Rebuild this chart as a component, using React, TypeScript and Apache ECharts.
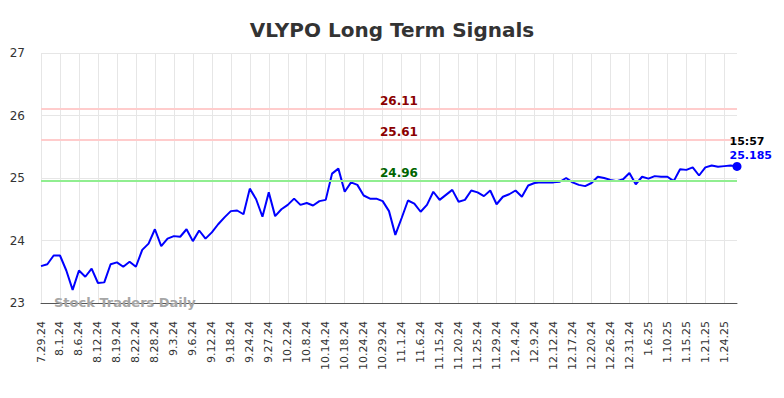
import React, { useEffect, useRef } from "react";
import * as echarts from "echarts";

const dates: string[] = [
  "7.29.24", "7.30.24", "7.31.24", "8.1.24", "8.2.24", "8.5.24", "8.6.24", "8.7.24", "8.9.24",
  "8.12.24", "8.14.24", "8.16.24", "8.19.24", "8.20.24", "8.21.24", "8.22.24", "8.23.24", "8.26.24",
  "8.28.24", "8.29.24", "8.30.24", "9.3.24", "9.4.24", "9.5.24", "9.6.24", "9.9.24", "9.10.24",
  "9.12.24", "9.13.24", "9.16.24", "9.18.24", "9.19.24", "9.20.24", "9.24.24", "9.25.24", "9.26.24",
  "9.27.24", "9.30.24", "10.1.24", "10.2.24", "10.3.24", "10.7.24", "10.8.24", "10.9.24", "10.11.24",
  "10.14.24", "10.15.24", "10.17.24", "10.18.24", "10.21.24", "10.22.24", "10.24.24", "10.25.24", "10.28.24",
  "10.29.24", "10.30.24", "10.31.24", "11.1.24", "11.4.24", "11.5.24", "11.6.24", "11.8.24", "11.12.24",
  "11.15.24", "11.18.24", "11.19.24", "11.20.24", "11.21.24", "11.22.24", "11.25.24", "11.26.24", "11.27.24",
  "11.29.24", "12.2.24", "12.3.24", "12.4.24", "12.5.24", "12.6.24", "12.9.24", "12.10.24", "12.11.24",
  "12.12.24", "12.13.24", "12.16.24", "12.17.24", "12.18.24", "12.19.24", "12.20.24", "12.23.24", "12.24.24",
  "12.26.24", "12.27.24", "12.30.24", "12.31.24", "1.2.25", "1.3.25", "1.6.25", "1.7.25", "1.8.25",
  "1.10.25", "1.13.25", "1.14.25", "1.15.25", "1.16.25", "1.17.25", "1.21.25", "1.22.25", "1.23.25",
  "1.24.25", "1.27.25", "1.28.25",
];

const prices: number[] = [
  23.59, 23.62, 23.76, 23.76, 23.52, 23.21, 23.52, 23.42, 23.55,
  23.32, 23.33, 23.62, 23.65, 23.58, 23.66, 23.58, 23.85, 23.95,
  24.18, 23.91, 24.03, 24.07, 24.06, 24.18, 23.99, 24.16, 24.03,
  24.13, 24.26, 24.37, 24.47, 24.48, 24.42, 24.83, 24.66, 24.38,
  24.77, 24.39, 24.5, 24.57, 24.67, 24.57, 24.6, 24.56, 24.63,
  24.65, 25.07, 25.15, 24.78, 24.93, 24.89, 24.72, 24.67, 24.67,
  24.63, 24.47, 24.09, 24.36, 24.64, 24.59, 24.46, 24.57, 24.78,
  24.65, 24.73, 24.81, 24.62, 24.65, 24.8, 24.77, 24.71, 24.8,
  24.58, 24.7, 24.74, 24.8, 24.7, 24.88, 24.92, 24.93, 24.93,
  24.93, 24.94, 25.0, 24.93, 24.89, 24.87, 24.92, 25.02, 25.0,
  24.97, 24.95, 24.98, 25.08, 24.9, 25.02, 24.99, 25.03, 25.02,
  25.02, 24.95, 25.14, 25.13, 25.17, 25.04, 25.17, 25.2, 25.18,
  25.19, 25.2, 25.185,
];

const resistanceLevels: number[] = [26.11, 25.61];
const supportLevels: number[] = [24.96];
const lastTime = "15:57";
const yTicks: number[] = [23, 24, 25, 26, 27];

export default function App() {
  const ref = useRef<HTMLDivElement>(null);

  useEffect(() => {
    if (!ref.current) return;
    const chart = echarts.init(ref.current, undefined, { renderer: "svg" });
    const font = "DejaVu Sans";
    const lastIdx = prices.length - 1;

    const levelLine = (v: number, color: string, textColor: string) => ({
      yAxis: v,
      lineStyle: { color, width: 2, type: "solid" },
      label: {
        show: true,
        formatter: v.toFixed(2),
        position: "insideMiddleTop",
        distance: 2,
        offset: [10, 0],
        color: textColor,
        fontWeight: "bold",
        fontSize: 12,
        fontFamily: font,
      },
    });

    chart.setOption({
      animation: false,
      backgroundColor: "#ffffff",
      title: {
        text: "VLYPO Long Term Signals",
        left: "center",
        top: 15,
        textStyle: { fontFamily: font, fontSize: 20, fontWeight: "bold", color: "#333333" },
      },
      grid: { left: 41, right: 47, top: 53, bottom: 95, containLabel: false },
      xAxis: {
        type: "category",
        data: dates,
        boundaryGap: false,
        axisLine: { show: true, lineStyle: { color: "#555555", width: 1 } },
        axisTick: { show: false },
        axisLabel: {
          interval: 2,
          rotate: 90,
          margin: 18,
          fontFamily: font,
          fontSize: 11,
          color: "#333333",
        },
        splitLine: { show: true, interval: 2, lineStyle: { color: "#e6e6e6", width: 1 } },
      },
      yAxis: {
        type: "value",
        min: yTicks[0],
        max: yTicks[yTicks.length - 1],
        interval: 1,
        axisLine: { show: false },
        axisTick: { show: false },
        axisLabel: { margin: 16, fontFamily: font, fontSize: 12, color: "#333333" },
        splitLine: { show: true, lineStyle: { color: "#e6e6e6", width: 1 } },
      },
      graphic: [
        {
          type: "text",
          left: 54,
          top: 296,
          style: {
            text: "Stock Traders Daily",
            font: `bold 13px "${font}"`,
            fill: "#a6a6a6",
          },
          z: 100,
        },
      ],
      series: [
        {
          type: "line",
          data: prices,
          showSymbol: false,
          symbol: "none",
          lineStyle: { color: "#0000ff", width: 2 },
          itemStyle: { color: "#0000ff" },
          markLine: {
            silent: true,
            symbol: "none",
            data: [
              ...resistanceLevels.map((v) => levelLine(v, "#ffcccc", "#8b0000")),
              ...supportLevels.map((v) => levelLine(v, "#90ee90", "#006400")),
            ],
          },
          z: 3,
        },
        {
          type: "scatter",
          data: [[dates[lastIdx], prices[lastIdx]]],
          symbol: "circle",
          symbolSize: 9,
          itemStyle: { color: "#0000ff", opacity: 1 },
          label: {
            show: true,
            position: [-3, -27],
            align: "left",
            verticalAlign: "top",
            opacity: 1,
            formatter: `{t|${lastTime}}\n{v|${prices[lastIdx]}}`,
            rich: {
              t: { color: "#000000", fontWeight: "bold", fontSize: 11, fontFamily: font, lineHeight: 14 },
              v: { color: "#0000ff", fontWeight: "bold", fontSize: 11, fontFamily: font, lineHeight: 14 },
            },
          },
          z: 5,
        },
      ],
    });

    return () => chart.dispose();
  }, []);

  return (
    <div
      ref={ref}
      style={{ position: "fixed", left: 0, top: 0, width: 784, height: 398 }}
    />
  );
}
